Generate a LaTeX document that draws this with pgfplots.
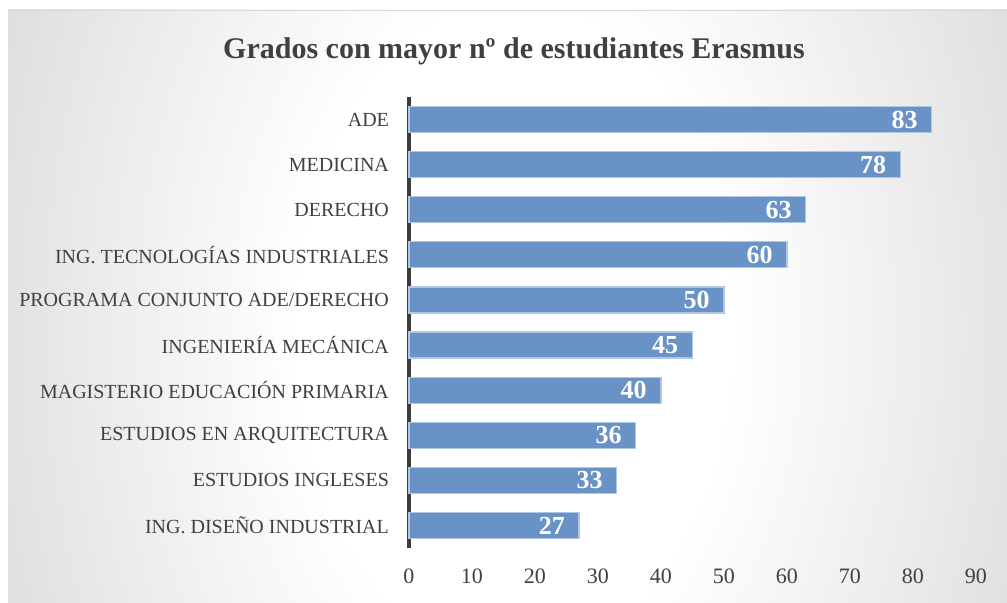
\documentclass[border=0pt]{standalone}
\usepackage{fontspec}
\setmainfont{Liberation Serif}
\usepackage{pgfplots}
\pgfplotsset{compat=1.18}

\definecolor{barblue}{RGB}{105,146,199}
\definecolor{baredge}{RGB}{175,198,228}
\definecolor{txtgray}{RGB}{64,64,64}
\definecolor{axgray}{RGB}{60,60,60}

\pgfdeclareradialshading{bgshade}{\pgfpoint{0bp}{0bp}}{%
  color(0bp)=(white); color(9bp)=(white);
  color(17.8bp)=(black!8); color(40bp)=(black!29); color(50bp)=(black!34)}

\begin{document}
\begin{tikzpicture}
\useasboundingbox (0,0) rectangle (503.5pt,301.5pt);
\fill[white] (0,0) rectangle (503.5pt,301.5pt);
\begin{scope}
  \clip (4pt,0) rectangle (503.5pt,296.5pt);
  \shade[shading=bgshade] (257.5pt,136.5pt) ellipse (300pt and 450pt);
\end{scope}
\draw[black!15, line width=0.6pt] (4pt,296.3pt) -- (503.5pt,296.3pt);

\node[font=\fontsize{15}{18}\selectfont\bfseries, text=txtgray] at (257pt,276pt)
  {Grados con mayor nº de estudiantes Erasmus};

\begin{axis}[
  at={(204.5pt,27.5pt)}, anchor=south west,
  scale only axis,
  width=283.5pt, height=225.5pt,
  xbar, bar width=13pt,
  xmin=0, xmax=90, ymin=-0.5, ymax=9.5,
  xtick={0,10,...,90},
  ytick={0,...,9},
  yticklabels={ING. DISEÑO INDUSTRIAL, ESTUDIOS INGLESES, ESTUDIOS EN ARQUITECTURA,
    MAGISTERIO EDUCACIÓN PRIMARIA, INGENIERÍA MECÁNICA, PROGRAMA CONJUNTO ADE/DERECHO,
    ING. TECNOLOGÍAS INDUSTRIALES, DERECHO, MEDICINA, ADE},
  axis y line*=left, axis x line*=bottom,
  x axis line style={draw=none},
  y axis line style={draw=axgray, line width=1.6pt, -},
  major tick length=0pt,
  tick style={draw=none},
  /pgf/number format/assume math mode=true,
  ticklabel style={font=\fontsize{10}{12}\selectfont, text=txtgray},
  xticklabel style={font=\fontsize{11}{12}\selectfont, yshift=-7pt},
  yticklabel style={xshift=-6.5pt},
  nodes near coords,
  nodes near coords style={anchor=east, xshift=-3.5pt, text=white,
    font=\fontsize{13}{14}\selectfont\bfseries},
  clip=false,
]
\addplot[fill=barblue, draw=baredge, line width=0.6pt] coordinates {
  (27,0) (33,1) (36,2) (40,3) (45,4) (50,5) (60,6) (63,7) (78,8) (83,9)};
\end{axis}
\end{tikzpicture}
\end{document}
